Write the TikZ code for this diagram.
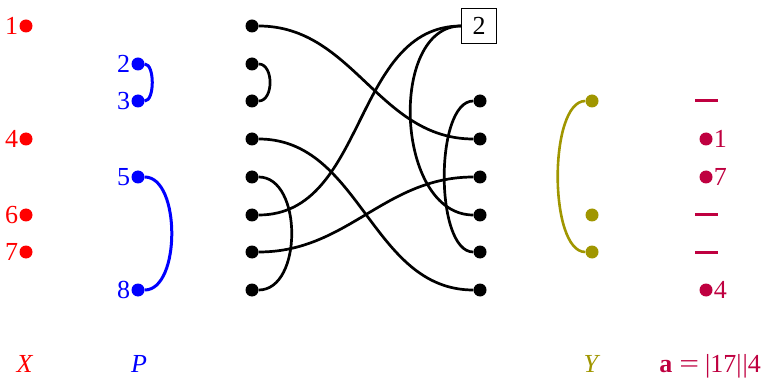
\documentclass[tikz,border=0pt]{standalone}
\usepackage{fontspec}
\setmainfont{Liberation Serif}
\definecolor{xred}{RGB}{255,0,0}
\definecolor{pblue}{RGB}{0,0,255}
\definecolor{yolive}{RGB}{160,150,0}
\definecolor{apurple}{RGB}{191,0,64}
\begin{document}
\begin{tikzpicture}[x=1pt,y=-1pt,
  font=\fontsize{26}{30}\selectfont,
  every label/.style={inner sep=1pt},
  dot/.style={circle,fill,inner sep=0pt,minimum size=13pt},
  xdot/.style={dot,xred,label={[xred]left:#1}},
  pdot/.style={dot,pblue,label={[pblue]left:#1}},
  mdot/.style={dot,black},
  ydot/.style={dot,yolive},
  adot/.style={dot,apurple,label={[apurple]right:#1}},
  adash/.style={rectangle,fill=apurple,inner sep=0pt,minimum width=23pt,minimum height=3pt},
  wire/.style={line width=2.7pt},
  pwire/.style={line width=3pt,pblue},
  ywire/.style={line width=2.6pt,yolive},
  axislabel/.style={inner sep=0pt,anchor=base}]
\useasboundingbox (0,0) rectangle (762,379);
% X column
\node[xdot=1] (x1) at (26,26) {};
\node[xdot=4] (x4) at (26,139) {};
\node[xdot=6] (x6) at (26,215) {};
\node[xdot=7] (x7) at (26,252) {};
% P column
\node[pdot=2] (p2) at (138,64) {};
\node[pdot=3] (p3) at (138,101) {};
\node[pdot=5] (p5) at (138,177) {};
\node[pdot=8] (p8) at (138,290) {};
\draw[pwire] (p2) to[out=0,in=0,looseness=0.7] (p3);
\draw[pwire] (p5) to[out=0,in=0,looseness=0.82] (p8);
% middle
\foreach \i/\y in {0/26,1/64,2/101,3/139,4/177,5/215,6/252,7/290}
  \node[mdot] (l\i) at (252,\y) {};
\foreach \i/\y in {2/101,3/139,4/177,5/215,6/252,7/290}
  \node[mdot] (r\i) at (480,\y) {};
\node[draw,line width=0.9pt,minimum width=35pt,minimum height=35pt,inner sep=0pt] (box) at (479,26) {2};
\draw[wire] (l0) to[out=0,in=180] (r3);
\draw[wire] (l1) to[out=0,in=0,looseness=1.05] (l2);
\draw[wire] (l3) to[out=0,in=180] (r7);
\draw[wire] (l4) to[out=0,in=0,looseness=1.0] (l7);
\draw[wire] (l5) to[out=0,in=180] (box.west);
\draw[wire] (l6) to[out=0,in=180] (r4);
\draw[wire] (box.west) .. controls (388,26) and (395,215) .. (r5);
\draw[wire] (r2) .. controls (434.5,101) and (434.5,252) .. (r6);
% Y column
\node[ydot] (y2) at (592,101) {};
\node[ydot] (y5) at (592,215) {};
\node[ydot] (y6) at (592,252) {};
\draw[ywire] (y2) .. controls (548.5,101) and (548.5,252) .. (y6);
% a column
\node[adash] (a2) at (706,101) {};
\node[adot=1] (a3) at (706,139) {};
\node[adot=7] (a4) at (706,177) {};
\node[adash] (a5) at (706,215) {};
\node[adash] (a6) at (706,252) {};
\node[adot=4] (a7) at (706,290) {};
% bottom labels
\node[axislabel,xred] (lx) at (25,372) {\textit{X}};
\node[axislabel,pblue] (lp) at (139,372) {\textit{P}};
\node[axislabel,yolive] (ly) at (592,372) {\textit{Y}};
\node[axislabel,apurple,anchor=base east] (la) at (761,372) {\textbf{a}\hspace{7pt}\scalebox{1.35}[1]{=}\hspace{6pt}|17|\hspace{1pt}|4};
\end{tikzpicture}
\end{document}
